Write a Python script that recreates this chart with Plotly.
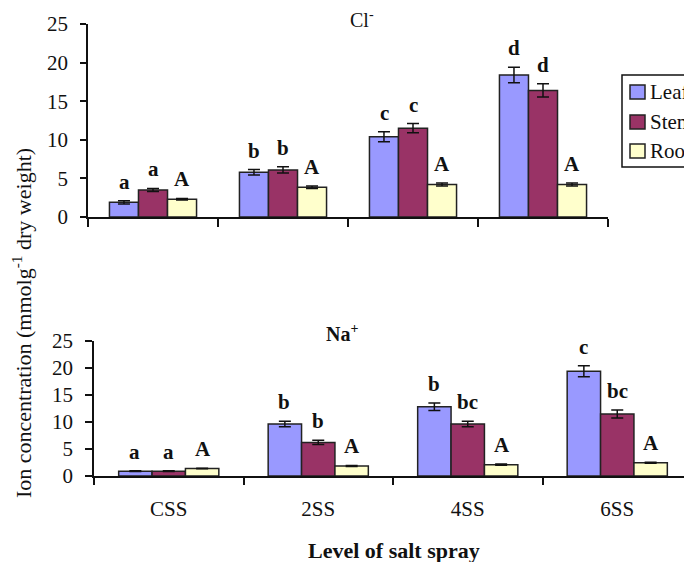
import plotly.graph_objects as go

categories = ["CSS", "2SS", "4SS", "6SS"]
series_names = ["Leaf", "Stem", "Root"]
colors = ["#9999FF", "#993366", "#FFFFCC"]

# Cl- (top panel)
cl_leaf = [1.9, 5.8, 10.4, 18.4]
cl_stem = [3.5, 6.1, 11.5, 16.4]
cl_root = [2.3, 3.85, 4.2, 4.2]
cl_leaf_err = [0.2, 0.35, 0.65, 1.0]
cl_stem_err = [0.2, 0.4, 0.6, 0.85]
cl_root_err = [0.1, 0.15, 0.2, 0.2]
cl_leaf_lbl = ["a", "b", "c", "d"]
cl_stem_lbl = ["a", "b", "c", "d"]
cl_root_lbl = ["A", "A", "A", "A"]

# Na+ (bottom panel)
na_leaf = [0.9, 9.6, 12.8, 19.35]
na_stem = [0.9, 6.2, 9.6, 11.45]
na_root = [1.4, 1.85, 2.1, 2.45]
na_leaf_err = [0.05, 0.5, 0.7, 1.0]
na_stem_err = [0.05, 0.4, 0.5, 0.75]
na_root_err = [0.05, 0.1, 0.1, 0.1]
na_leaf_lbl = ["a", "b", "b", "c"]
na_stem_lbl = ["a", "b", "bc", "bc"]
na_root_lbl = ["A", "A", "A", "A"]

y_ticks = [0, 5, 10, 15, 20, 25]

FONT = "Liberation Serif, Times New Roman, serif"
INK = "#111111"
# the page body has an 8px margin, so the figure is sized to fill the rest of the window
BODY = 8
W, H = 692 - BODY, 562 - BODY


def px(x):
    return (x - BODY) / W


def py(y):
    return 1 - (y - BODY) / H


fig = go.Figure()

panels = [
    ("x", "y", [cl_leaf, cl_stem, cl_root], [cl_leaf_err, cl_stem_err, cl_root_err],
     [cl_leaf_lbl, cl_stem_lbl, cl_root_lbl], 29),
    ("x2", "y2", [na_leaf, na_stem, na_root], [na_leaf_err, na_stem_err, na_root_err],
     [na_leaf_lbl, na_stem_lbl, na_root_lbl], 34),
]

offsets = [-1, 0, 1]
for xa, ya, vals, errs, lbls, bw in panels:
    for i, name in enumerate(series_names):
        fig.add_trace(go.Bar(
            x=categories, y=vals[i], name=name, xaxis=xa, yaxis=ya,
            marker=dict(color=colors[i], line=dict(color="#222222", width=1.5)),
            error_y=dict(type="data", array=errs[i], color=INK, thickness=1.5, width=6),
            showlegend=False,
        ))

axis_common = dict(showline=True, linecolor=INK, linewidth=1.5, ticks="outside",
                   tickcolor=INK, tickwidth=1.5, showgrid=False, zeroline=False)

fig.update_layout(
    width=W, height=H,
    margin=dict(l=0, r=0, t=0, b=0, autoexpand=False),
    paper_bgcolor="white", plot_bgcolor="white",
    barmode="group", bargap=0.33, bargroupgap=0,
    font=dict(family=FONT, size=20, color=INK),
    showlegend=False,
    xaxis=dict(domain=[px(88), px(608)], anchor="y", type="category",
               ticklen=8, tickson="boundaries", showticklabels=False, **axis_common),
    yaxis=dict(domain=[py(217), py(24)], anchor="x", range=[0, 25],
               tickvals=y_ticks, ticklen=6, ticklabelstandoff=8,
               tickfont=dict(size=21), **axis_common),
    xaxis2=dict(domain=[px(94), 1.0], anchor="y2", type="category",
                ticklen=7, tickson="boundaries", tickfont=dict(size=21),
                ticklabelstandoff=13, **axis_common),
    yaxis2=dict(domain=[py(476), py(340.7)], anchor="x2", range=[0, 25],
                tickvals=y_ticks, ticklen=7, ticklabelstandoff=8,
                tickfont=dict(size=21), **axis_common),
)

# significance letters above the error bars
annotations = []
for xa, ya, vals, errs, lbls, bw in panels:
    for i in range(3):
        for j, cat in enumerate(categories):
            annotations.append(dict(
                x=cat, y=vals[i][j] + errs[i][j], xref=xa, yref=ya,
                text="<b>%s</b>" % lbls[i][j], showarrow=False,
                xanchor="center", yanchor="bottom", yshift=5, xshift=offsets[i] * bw,
                font=dict(family=FONT, size=21, color=INK),
            ))

# panel titles and axis titles
annotations += [
    dict(x=px(362), y=py(19), xref="paper", yref="paper", showarrow=False,
         xanchor="center", yanchor="middle",
         text="Cl<sup>-</sup>", font=dict(family=FONT, size=20, color=INK)),
    dict(x=px(342), y=py(333), xref="paper", yref="paper", showarrow=False,
         xanchor="center", yanchor="middle",
         text="<b>Na<sup>+</sup></b>", font=dict(family=FONT, size=20, color=INK)),
    dict(x=px(22), y=py(323), xref="paper", yref="paper", showarrow=False,
         xanchor="center", yanchor="middle", textangle=-90,
         text="Ion concentration (mmolg<sup>-1</sup> dry weight)",
         font=dict(family=FONT, size=22, color=INK)),
    dict(x=px(394), y=py(550), xref="paper", yref="paper", showarrow=False,
         xanchor="center", yanchor="middle",
         text="<b>Level of salt spray</b>", font=dict(family=FONT, size=22, color=INK)),
]

# legend box (runs off the right edge, as in the reference)
shapes = [dict(type="rect", xref="paper", yref="paper", x0=px(622), x1=px(740),
               y0=py(167), y1=py(75), line=dict(color=INK, width=1.5), fillcolor="white",
               layer="above")]
row_y = [92, 122, 151]
for name, col, ry in zip(series_names, colors, row_y):
    shapes.append(dict(type="rect", xref="paper", yref="paper",
                       x0=px(630), x1=px(645), y0=py(ry + 7), y1=py(ry - 7),
                       line=dict(color="#222222", width=1.5), fillcolor=col, layer="above"))
    annotations.append(dict(x=px(648), y=py(ry), xref="paper", yref="paper",
                            showarrow=False, xanchor="left", yanchor="middle",
                            text=name, font=dict(family=FONT, size=21, color=INK)))

fig.update_layout(annotations=annotations, shapes=shapes)

fig.write_html("out.html")
